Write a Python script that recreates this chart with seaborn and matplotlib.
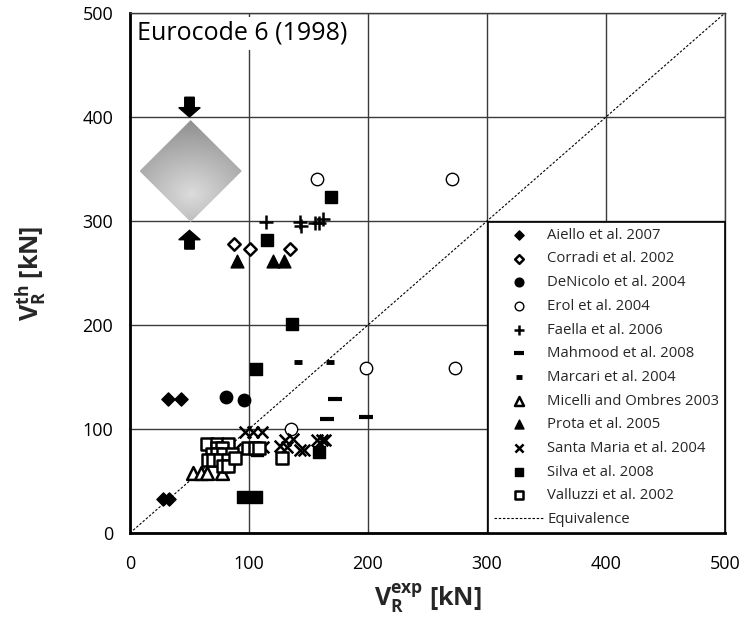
import numpy as np
import pandas as pd
import matplotlib
matplotlib.use("Agg")
import matplotlib.pyplot as plt
from matplotlib.patches import Polygon, FancyArrow
import seaborn as sns

# ---------------- data ----------------
aiello_x = [28, 33, 32, 43]
aiello_y = [33, 33, 129, 129]
corradi_x = [87, 101, 134.5]
corradi_y = [277.6, 273, 273]
denicolo_x = [81, 96]
denicolo_y = [131, 127.6]
erol_x = [157, 271, 198, 273, 135]
erol_y = [340, 340, 159, 159, 99.7]
faella_x = [114, 143, 143.4, 155.5, 158.5, 162.5]
faella_y = [299, 298.6, 295.4, 298, 298, 302]
mahmood_x = [172.5, 165.5, 198]
mahmood_y = [128.8, 109.4, 112]
marcari_x = [141.5, 168]
marcari_y = [164, 164]
micelli_x = [53, 60, 65, 77]
micelli_y = [58, 58, 58, 58]
prota_x = [90, 120, 129.4]
prota_y = [261.5, 261.5, 261.5]
santa_x = [96.6, 103.6, 110.7, 112, 88, 126, 131.7, 130, 137, 143, 146, 157, 161, 164]
santa_y = [97, 97, 97, 83, 81, 84, 83, 89, 90, 80, 80, 89, 89, 89]
silva_x = [169, 115, 136, 106, 94.7, 106, 159, 107]
silva_y = [323, 282, 201, 158, 35, 35, 78, 80]
valluzzi_x = [64.4, 73.4, 82.6, 73.4, 77, 68.6, 72.8, 78.4, 85.5, 65.8, 70, 75.6,
              82.6, 78.4, 82.6, 99.4, 105, 108.7, 88, 128]
valluzzi_y = [85.6, 85.6, 85.6, 81.4, 81.4, 75.6, 75.6, 75.6, 75.6, 70.2, 70.2, 70.2,
              70.2, 64.7, 64.7, 81.4, 81.4, 81.4, 72, 72.4]

studies = ["Aiello et al. 2007", "Corradi et al. 2002", "DeNicolo et al. 2004",
           "Erol et al. 2004", "Faella et al. 2006", "Mahmood et al. 2008",
           "Marcari et al. 2004", "Micelli and Ombres 2003", "Prota et al. 2005",
           "Santa Maria et al. 2004", "Silva et al. 2008", "Valluzzi et al. 2002"]
xs = [aiello_x, corradi_x, denicolo_x, erol_x, faella_x, mahmood_x, marcari_x,
      micelli_x, prota_x, santa_x, silva_x, valluzzi_x]
ys = [aiello_y, corradi_y, denicolo_y, erol_y, faella_y, mahmood_y, marcari_y,
      micelli_y, prota_y, santa_y, silva_y, valluzzi_y]

ticks = [0, 100, 200, 300, 400, 500]

rows = []
for name, xv, yv in zip(studies, xs, ys):
    for a, b in zip(xv, yv):
        rows.append((name, a, b))
df = pd.DataFrame(rows, columns=["study", "x", "y"])

# ---------------- style ----------------
sns.set_theme(style="white")
plt.rcParams["font.family"] = ["Open Sans", "DejaVu Sans"]
plt.rcParams["mathtext.fontset"] = "custom"
plt.rcParams["mathtext.rm"] = "Open Sans"
plt.rcParams["mathtext.bf"] = "Open Sans:bold"
plt.rcParams["mathtext.it"] = "Open Sans:italic"

fig = plt.figure(figsize=(7.44, 6.24), dpi=100)
ax = fig.add_axes([130/744, 1-533/624, 595/744, 520/624])

# marker styles: (marker, size, facecolor, edgecolor, linewidth, filled)
styles = {
    "Aiello et al. 2007": ("D", 45, "black", "black", 1.0, True),
    "Corradi et al. 2002": ("D", 40, "white", "black", 1.8, True),
    "DeNicolo et al. 2004": ("o", 80, "black", "black", 1.0, True),
    "Erol et al. 2004": ("o", 80, "white", "black", 1.0, True),
    "Faella et al. 2006": ("+", 90, "black", "black", 1.8, False),
    "Mahmood et al. 2008": ("_", 110, "black", "black", 3.0, False),
    "Marcari et al. 2004": ("_", 35, "black", "black", 3.5, False),
    "Micelli and Ombres 2003": ("^", 85, "white", "black", 1.8, True),
    "Prota et al. 2005": ("^", 85, "black", "black", 1.0, True),
    "Santa Maria et al. 2004": ("x", 70, "black", "black", 1.8, False),
    "Silva et al. 2008": ("s", 75, "black", "black", 1.0, True),
    "Valluzzi et al. 2002": ("s", 80, "white", "black", 1.8, True),
}

ax.set_xlim(0, 500)
ax.set_ylim(0, 500)
ax.set_xticks(ticks)
ax.set_yticks(ticks)
ax.grid(True, color="#3a3a3a", lw=1.0)
ax.set_axisbelow(True)

eq, = ax.plot([0, 500], [0, 500], ls=(0, (2.2, 1.6)), lw=0.8, color="black",
              label="Equivalence", zorder=2)

for name in studies:
    m, s, fc, ec, lw, filled = styles[name]
    sub = df[df.study == name]
    if filled:
        sns.scatterplot(data=sub, x="x", y="y", marker=m, s=s, color=fc,
                        edgecolor=ec, linewidth=lw, ax=ax, label=name, zorder=3)
    else:
        sns.scatterplot(data=sub, x="x", y="y", marker=m, s=s, color=ec,
                        linewidth=lw, ax=ax, label=name, zorder=3)

# gradient diamond decoration
cx, cy, hw, hh = 51, 348, 43, 49
gx = np.linspace(-1, 1, 200)
gy = np.linspace(1, -1, 200)
GX, GY = np.meshgrid(gx, gy)
dist = np.sqrt((GX*0.9)**2 + ((GY + 0.45)*1.1)**2)
val = 0.86 - 0.30*np.clip(dist/1.6, 0, 1)
img = ax.imshow(val, cmap="gray", vmin=0, vmax=1, extent=[cx-hw, cx+hw, cy-hh, cy+hh],
                aspect="auto", zorder=2.5, interpolation="bilinear")
poly = Polygon([[cx, cy+hh], [cx+hw, cy], [cx, cy-hh], [cx-hw, cy]],
               closed=True, transform=ax.transData, facecolor="none", edgecolor="none")
ax.add_patch(poly)
img.set_clip_path(poly)

ax.add_patch(FancyArrow(50, 419, 0, -19, width=8, head_width=18, head_length=9,
                        length_includes_head=True, color="black", zorder=3))
ax.add_patch(FancyArrow(50, 273, 0, 18, width=8, head_width=18, head_length=9,
                        length_includes_head=True, color="black", zorder=3))

ax.set_xlim(0, 500)
ax.set_ylim(0, 500)

# title box
ax.text(0.012, 0.985, "Eurocode 6 (1998)", transform=ax.transAxes, ha="left", va="top",
        fontsize=18, color="black", zorder=6,
        bbox=dict(facecolor="white", edgecolor="none", pad=3))

# spines
for side in ["left", "bottom"]:
    ax.spines[side].set_color("black")
    ax.spines[side].set_linewidth(2.0)
for side in ["top", "right"]:
    ax.spines[side].set_color("#3a3a3a")
    ax.spines[side].set_linewidth(1.0)

ax.tick_params(axis="both", length=0, labelsize=13, colors="black")
ax.tick_params(axis="x", pad=16)
ax.tick_params(axis="y", pad=12)

ax.set_xlabel(r"$\mathbf{V_R^{exp}}$ [kN]", fontsize=18, fontweight="bold", labelpad=6)
ax.set_ylabel(r"$\mathbf{V_R^{th}}$ [kN]", fontsize=18, fontweight="bold", labelpad=24)

handles, labels = ax.get_legend_handles_labels()
order = [labels.index(n) for n in studies] + [labels.index("Equivalence")]
leg = ax.legend([handles[i] for i in order], [labels[i] for i in order],
                loc="lower right", borderaxespad=0, fontsize=10.7, frameon=True,
                fancybox=False, framealpha=1, edgecolor="black", markerscale=0.7,
                handlelength=3.3, handletextpad=0.25, labelspacing=0.585,
                borderpad=0.4)
leg.get_frame().set_linewidth(1.2)
leg.set_zorder(10)

fig.savefig("out.png", dpi=100)
